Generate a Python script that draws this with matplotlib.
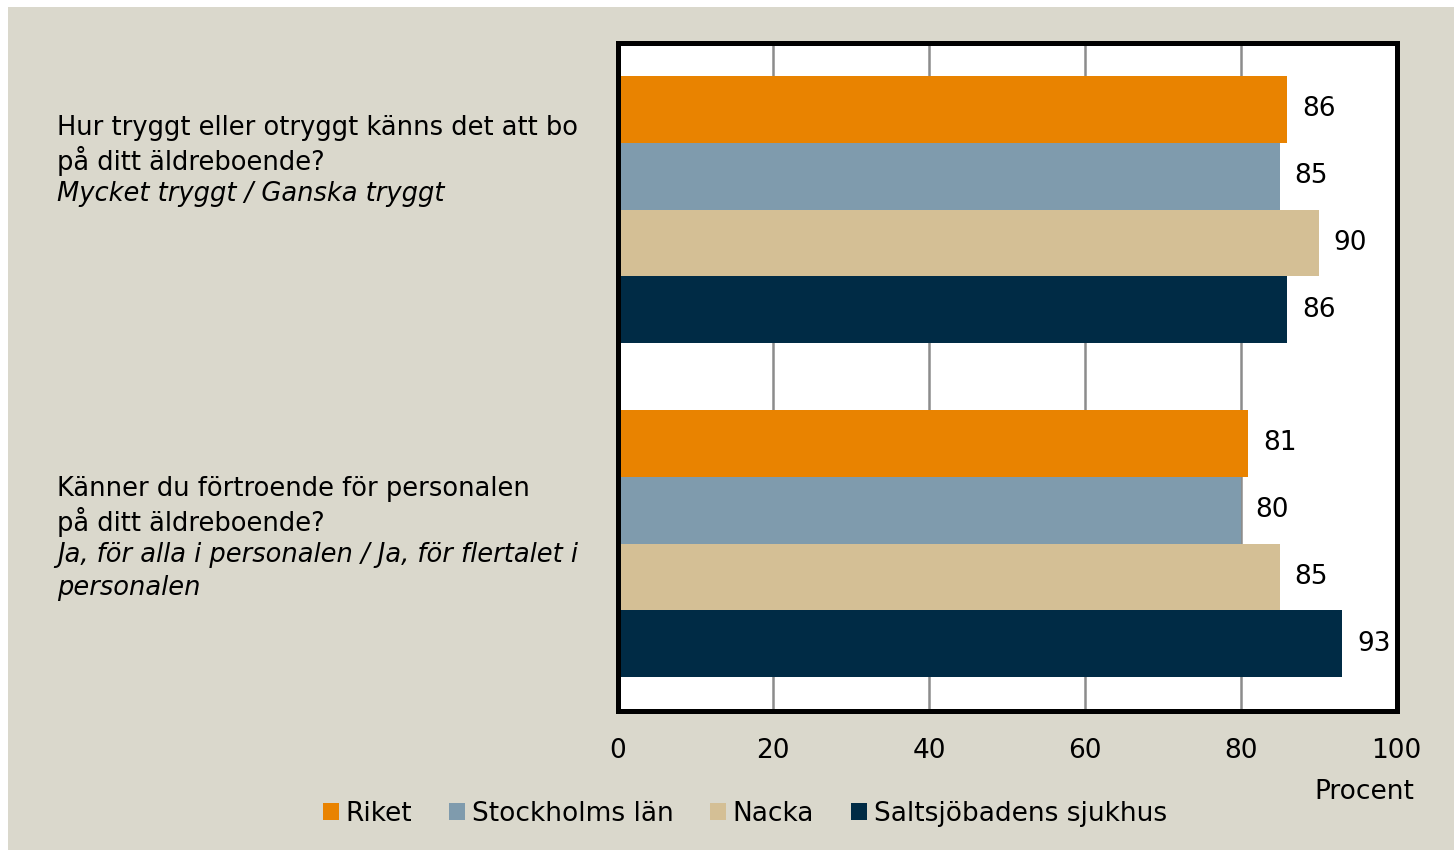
import matplotlib
matplotlib.use("Agg")
import matplotlib.pyplot as plt
from matplotlib.patches import Rectangle, Patch

series = ["Riket", "Stockholms län", "Nacka", "Saltsjöbadens sjukhus"]
colors = ["#E98300", "#7F9BAD", "#D4BF95", "#002B45"]
# values per question (rows) per series (cols)
q1_values = [86, 85, 90, 86]
q2_values = [81, 80, 85, 93]
values = [q1_values, q2_values]
q1_label = ["Hur tryggt eller otryggt känns det att bo", "på ditt äldreboende?"]
q1_sub = ["Mycket tryggt / Ganska tryggt"]
q2_label = ["Känner du förtroende för personalen", "på ditt äldreboende?"]
q2_sub = ["Ja, för alla i personalen / Ja, för flertalet i", "personalen"]
xticks = [0, 20, 40, 60, 80, 100]
xlabel = "Procent"

plt.rcParams['font.family'] = ['DejaVu Sans']
W, H = 1454, 850
fig = plt.figure(figsize=(W / 100, H / 100), dpi=100, facecolor="white")
bg = "#DAD8CC"
fig.patches.append(Rectangle((8 / W, 0), 1 - 8 / W, 1 - 7 / H, transform=fig.transFigure,
                             facecolor=bg, edgecolor="none", zorder=-5))

ax = fig.add_axes([617.5 / W, 1 - 710.5 / H, 779 / W, 668 / H])
ax.set_zorder(2)
ax.set_facecolor("white")
ax.set_xlim(0, 100)
ax.set_ylim(10, 0)

for g, vals in enumerate(values):
    center = 2.5 + 5 * g
    for i, (v, c) in enumerate(zip(vals, colors)):
        y = center - 1.5 + i
        ax.barh(y, v, height=1.0, color=c, edgecolor="none", zorder=3)
        ax.annotate(f"{v}", xy=(v, y), xytext=(15, 0), textcoords="offset pixels",
                    ha="left", va="center", fontsize=19, color="black", zorder=4)

ax.set_xticks(xticks)
ax.set_xticklabels([str(t) for t in xticks], fontsize=19)
ax.tick_params(axis="x", length=0, pad=20)
ax.set_yticks([])
ax.grid(axis="x", color="#8C8C8C", linewidth=1.8, zorder=1)
ax.set_axisbelow(True)
for s in ax.spines.values():
    s.set_linewidth(3.6)
    s.set_color("black")
    s.set_zorder(5)

fig.text(1414 / W, 1 - 792 / H, xlabel, ha="right", va="center", fontsize=19)

def block(lines, sub, y0):
    y = y0
    for ln in lines:
        fig.text(57 / W, 1 - y / H, ln, ha="left", va="center", fontsize=18.5)
        y += 33
    for ln in sub:
        fig.text(57 / W, 1 - y / H, ln, ha="left", va="center", fontsize=18.5, style="italic")
        y += 33

block(q1_label, q1_sub, 128)
block(q2_label, q2_sub, 489)

handles = [Patch(facecolor=c, edgecolor="none") for c in colors]
fig.legend(handles, series, loc="center", bbox_to_anchor=(745 / W, 1 - 814 / H), ncol=4,
           frameon=False, fontsize=19, handlelength=0.6, handleheight=0.6,
           handletextpad=0.25, columnspacing=1.4, borderpad=0)

fig.savefig("out.png", dpi=100, facecolor="white")
